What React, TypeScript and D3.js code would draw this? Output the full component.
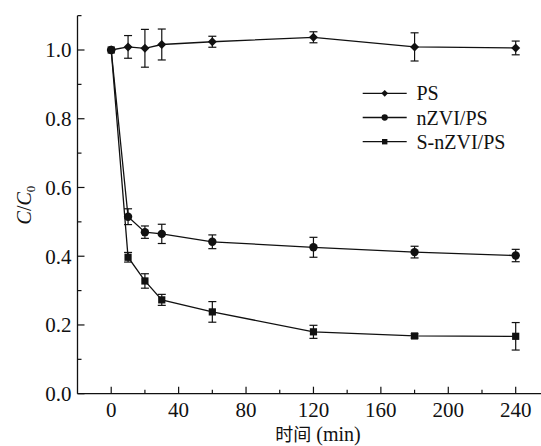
import React from "react";
import * as d3 from "d3";

const times = [0, 10, 20, 30, 60, 120, 180, 240];
const seriesNames = ["PS", "nZVI/PS", "S-nZVI/PS"];
const psValues = [1.0, 1.009, 1.005, 1.016, 1.024, 1.037, 1.009, 1.006];
const psErrors = [0, 0.033, 0.055, 0.045, 0.016, 0.016, 0.041, 0.02];
const nzviValues = [1.0, 0.515, 0.47, 0.465, 0.442, 0.426, 0.412, 0.402];
const nzviErrors = [0, 0.023, 0.018, 0.028, 0.02, 0.029, 0.017, 0.018];
const snzviValues = [1.0, 0.397, 0.328, 0.273, 0.238, 0.18, 0.168, 0.167];
const snzviErrors = [0, 0.014, 0.021, 0.016, 0.03, 0.019, 0.006, 0.04];
const xTicks = [0, 40, 80, 120, 160, 200, 240];
const xMinor = [20, 60, 100, 140, 180, 220];
const yTicks = [0, 0.2, 0.4, 0.6, 0.8, 1.0];
const yMinor = [0.1, 0.3, 0.5, 0.7, 0.9, 1.1];

const W = 541, H = 446;
const SERIF = "'Liberation Serif', 'Times New Roman', serif";
const CJK = "'Noto Sans CJK SC', sans-serif";
const INK = "#111";

export default function App() {
  const x = d3.scaleLinear().domain([-20, 240]).range([77.5, 515.7]);
  const y = d3.scaleLinear().domain([0, 1.0]).range([393.7, 50]);
  const xEnd = 541;
  const series = [
    { name: seriesNames[0], values: psValues, errors: psErrors, shape: "diamond" },
    { name: seriesNames[1], values: nzviValues, errors: nzviErrors, shape: "circle" },
    { name: seriesNames[2], values: snzviValues, errors: snzviErrors, shape: "square" },
  ];
  const line = d3.line<number>().x((_, i) => x(times[i])).y((v) => y(v));

  const marker = (shape: string, cx: number, cy: number, key: string, scale = 1) => {
    if (shape === "diamond") {
      const s = 4.5 * scale;
      return <path key={key} d={`M${cx},${cy - s}L${cx + s},${cy}L${cx},${cy + s}L${cx - s},${cy}Z`} fill={INK} />;
    }
    if (shape === "circle") return <circle key={key} cx={cx} cy={cy} r={4.2 * scale} fill={INK} />;
    const s = 3.6 * scale;
    return <rect key={key} x={cx - s} y={cy - s} width={2 * s} height={2 * s} fill={INK} />;
  };

  const y0 = y(0);
  const yTop = y(1.1);
  return (
    <svg width={W} height={H} style={{ position: "absolute", left: 0, top: 0, background: "#fff" }}
      fontFamily={SERIF}>
      {/* axes */}
      <line x1={x(-20)} x2={x(-20)} y1={yTop} y2={y0} stroke={INK} strokeWidth={1.3} />
      <line x1={x(-20)} x2={xEnd} y1={y0} y2={y0} stroke={INK} strokeWidth={1.3} />
      {yTicks.map((t) => (
        <g key={"yt" + t}>
          <line x1={x(-20)} x2={x(-20) + 7} y1={y(t)} y2={y(t)} stroke={INK} strokeWidth={1.2} />
          <text x={x(-20) - 6} y={y(t)} dy="0.35em" textAnchor="end" fontSize={21} fill={INK}>{t.toFixed(1)}</text>
        </g>
      ))}
      {yMinor.map((t) => (
        <line key={"ym" + t} x1={x(-20)} x2={x(-20) + 4} y1={y(t)} y2={y(t)} stroke={INK} strokeWidth={1.2} />
      ))}
      {xTicks.map((t) => (
        <g key={"xt" + t}>
          <line x1={x(t)} x2={x(t)} y1={y0} y2={y0 - 7} stroke={INK} strokeWidth={1.2} />
          <text x={x(t)} y={y0 + 23} textAnchor="middle" fontSize={21} fill={INK}>{t}</text>
        </g>
      ))}
      {xMinor.map((t) => (
        <line key={"xm" + t} x1={x(t)} x2={x(t)} y1={y0} y2={y0 - 4} stroke={INK} strokeWidth={1.2} />
      ))}
      <text x={318} y={441} textAnchor="middle" fontSize={20} fill={INK}>
        <tspan fontFamily={CJK} fontSize={18}>时间</tspan>
        <tspan fontFamily={SERIF}> (min)</tspan>
      </text>
      <text transform={`translate(31,205) rotate(-90)`} textAnchor="middle" fontSize={20} fill={INK}>
        <tspan fontStyle="italic">C</tspan>/<tspan fontStyle="italic">C</tspan>
        <tspan fontSize={13} dy={4}>0</tspan>
      </text>
      {/* data */}
      {series.map((s) => (
        <g key={s.name}>
          <path d={line(s.values) || ""} fill="none" stroke={INK} strokeWidth={1.3} />
          {s.values.map((v, i) => s.errors[i] > 0 ? (
            <g key={"e" + i} stroke={INK} strokeWidth={1.2}>
              <line x1={x(times[i])} x2={x(times[i])} y1={y(v + s.errors[i])} y2={y(v - s.errors[i])} />
              <line x1={x(times[i]) - 4} x2={x(times[i]) + 4} y1={y(v + s.errors[i])} y2={y(v + s.errors[i])} />
              <line x1={x(times[i]) - 4} x2={x(times[i]) + 4} y1={y(v - s.errors[i])} y2={y(v - s.errors[i])} />
            </g>
          ) : null)}
          {s.values.map((v, i) => marker(s.shape, x(times[i]), y(v), "m" + i))}
        </g>
      ))}
      {/* legend */}
      {series.map((s, i) => {
        const ly = 93.3 + i * 24.2;
        return (
          <g key={"lg" + s.name}>
            <line x1={362.7} x2={406.7} y1={ly} y2={ly} stroke={INK} strokeWidth={1.3} />
            {marker(s.shape, 384.7, ly, "lm", 0.75)}
            <text x={416.5} y={ly} dy="0.35em" fontSize={20} fill={INK}>{s.name}</text>
          </g>
        );
      })}
    </svg>
  );
}
